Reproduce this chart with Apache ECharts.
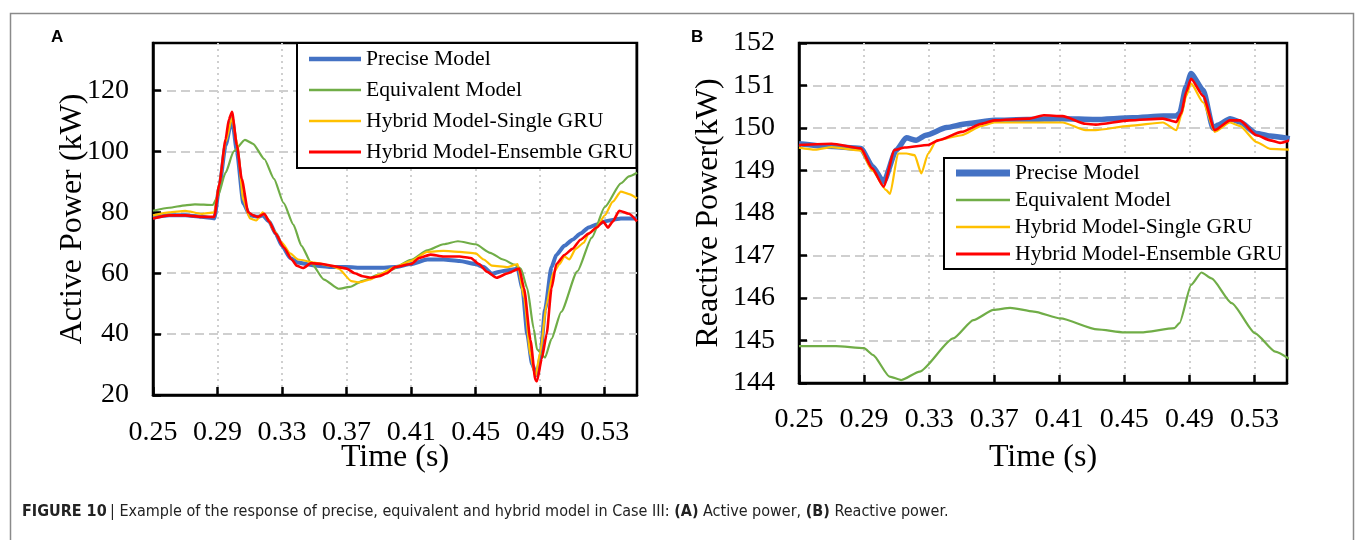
<!DOCTYPE html>
<html>
<head>
<meta charset="utf-8">
<script src="https://cdn.jsdelivr.net/npm/echarts@6/dist/echarts.min.js"></script>
<style>
  html, body { margin: 0; padding: 0; background: #fff; }
  #chart { width: 1357px; height: 540px; }
</style>
</head>
<body>
<div id="chart"></div>
<script>
// ---- panel A: active power (kW) ----
var aPreciseT = [0.25,0.26,0.27,0.28,0.288,0.291,0.295,0.299,0.302,0.306,0.31,0.315,0.318,0.322,0.326,0.33,0.335,0.34,0.345,0.35,0.36,0.37,0.38,0.39,0.40,0.41,0.42,0.43,0.44,0.45,0.455,0.46,0.465,0.47,0.476,0.479,0.482,0.485,0.488,0.49,0.493,0.497,0.50,0.505,0.51,0.515,0.52,0.525,0.53,0.535,0.54,0.545,0.55];
var aPrecise  = [78.2,79,79,78.5,78,88,102,110.8,100,83,79,78.5,79,77,73,69,65,63.5,63,62.5,62,62,61.8,61.8,62,63,64.5,64.5,64,63,62,59.8,60.5,61,61.5,55,40,30,26.5,32,48,62,66,69,71,73,75,76,77,77.5,78,78,78];

var aEquivT = [0.25,0.26,0.27,0.276,0.287,0.29,0.295,0.30,0.307,0.312,0.319,0.325,0.331,0.337,0.342,0.348,0.356,0.365,0.372,0.38,0.39,0.397,0.41,0.42,0.43,0.439,0.45,0.459,0.467,0.474,0.478,0.482,0.486,0.488,0.493,0.497,0.503,0.513,0.522,0.53,0.54,0.545,0.55];
var aEquiv  = [80.5,81.5,82.3,82.6,82.4,85,93,100,103.8,102.5,97.5,91,83,76,69,63.4,57.9,54.9,55.5,57.5,59.5,61,64.4,67.5,69.5,70.5,69.5,66.7,64.5,62.8,61.5,55,41.7,35,32.3,38.4,47.3,60.6,71.7,81.7,89.5,91.8,93];

var aSingleT = [0.25,0.26,0.27,0.28,0.288,0.291,0.295,0.299,0.302,0.306,0.31,0.314,0.318,0.321,0.325,0.33,0.335,0.34,0.35,0.36,0.365,0.373,0.378,0.385,0.39,0.40,0.41,0.42,0.43,0.44,0.45,0.455,0.46,0.47,0.476,0.48,0.484,0.487,0.49,0.494,0.498,0.502,0.505,0.508,0.512,0.517,0.52,0.525,0.53,0.535,0.54,0.545,0.55];
var aSingle  = [79,80,80.5,79.5,80,89,103,111,103,84,78,77.3,80,78,74,70,66.5,64.5,63.5,62.5,61.5,57.4,57,58,59.5,62,64,67,67.3,67,66.5,64.5,62.5,62,63,52,33,26,34,50,60,63,65.5,64.5,68,70,73,75,79,83.5,86.8,86,84.6];

var aEnsembleT = [0.25,0.26,0.27,0.28,0.288,0.291,0.295,0.297,0.299,0.302,0.305,0.309,0.312,0.315,0.319,0.322,0.326,0.331,0.336,0.339,0.343,0.348,0.355,0.36,0.365,0.37,0.375,0.38,0.385,0.39,0.395,0.40,0.41,0.415,0.422,0.43,0.44,0.447,0.452,0.457,0.463,0.47,0.477,0.48,0.484,0.487,0.488,0.491,0.494,0.497,0.50,0.505,0.51,0.515,0.52,0.525,0.529,0.532,0.535,0.539,0.545,0.55];
var aEnsemble  = [78,79,79,78.5,78.5,89,104,110.5,113,102,91,80,79,78.5,79.5,77,73,68.5,64.5,62.5,61.7,63.3,63,62.5,62,61.5,60,59,58.5,59,60,62,63,65,66.1,65.5,65.5,65,63,60.5,58.5,60,61.5,55,38,25,24.5,32,40,55,63,66,68,71,73,75,77,75,77,80.5,79.5,77];

// ---- panel B: reactive power (kW) ----
var bPreciseT = [0.25,0.2675,0.288,0.2953,0.302,0.3098,0.316,0.322,0.328,0.3407,0.353,0.37,0.39,0.412,0.432,0.455,0.474,0.482,0.484,0.488,0.491,0.4985,0.5046,0.5077,0.515,0.521,0.5313,0.5396,0.5517];
var bPrecise  = [149.63,149.57,149.52,149.09,148.73,149.48,149.77,149.71,149.83,150.01,150.1,150.18,150.2,150.22,150.2,150.24,150.28,150.28,150.35,150.97,151.28,150.89,149.99,150.07,150.22,150.14,149.87,149.81,149.75];

var bEquivT = [0.25,0.2727,0.29,0.2954,0.3057,0.3129,0.3242,0.3448,0.3572,0.3696,0.3798,0.3943,0.4107,0.4334,0.4499,0.4602,0.4808,0.4839,0.4911,0.4974,0.5036,0.516,0.5304,0.5428,0.5517];
var bEquiv  = [144.87,144.87,144.82,144.66,144.15,144.07,144.27,145.05,145.48,145.72,145.77,145.68,145.52,145.26,145.19,145.19,145.29,145.41,146.31,146.6,146.46,145.88,145.17,144.74,144.56];

var bSingleT = [0.25,0.26,0.27,0.288,0.295,0.3036,0.306,0.3109,0.316,0.3211,0.3252,0.3294,0.3345,0.35,0.3623,0.37,0.412,0.4262,0.4324,0.453,0.4737,0.482,0.485,0.488,0.491,0.4985,0.5056,0.515,0.521,0.5313,0.5396,0.5517];
var bSingle  = [149.54,149.49,149.55,149.47,149.0,148.54,148.45,149.4,149.4,149.36,148.93,149.4,149.71,149.83,150.05,150.13,150.13,149.95,149.95,150.05,150.13,149.95,150.3,150.75,151.05,150.6,149.91,150.13,150.05,149.67,149.51,149.49];

var bEnsembleT = [0.25,0.27,0.288,0.295,0.302,0.3087,0.315,0.3294,0.3356,0.35,0.3623,0.37,0.3912,0.4005,0.412,0.4262,0.4324,0.453,0.4737,0.482,0.485,0.488,0.491,0.4985,0.5056,0.515,0.521,0.5313,0.5396,0.5457,0.5517];
var bEnsemble  = [149.6,149.63,149.52,149.05,148.62,149.48,149.54,149.6,149.71,149.91,150.1,150.18,150.22,150.3,150.28,150.1,150.08,150.18,150.22,150.14,150.35,150.85,151.16,150.75,149.95,150.18,150.18,149.83,149.71,149.65,149.71];

var names = ['Precise Model', 'Equivalent Model', 'Hybrid Model-Single GRU', 'Hybrid Model-Ensemble GRU'];
var colors = ['#4472C4', '#70AD47', '#FFC000', '#FF0000'];

function pairs(t, v) {
  return t.map(function (x, i) { return [x, v[i]]; });
}

var serif = '"Liberation Serif", "Times New Roman", serif';

var chart = echarts.init(document.getElementById('chart'));

function xAxis(gridIndex, labelMargin, nameGap) {
  return {
    type: 'value', gridIndex: gridIndex,
    min: 0.25, max: 0.55, interval: 0.04,
    name: 'Time (s)', nameLocation: 'middle', nameGap: nameGap, nameMoveOverlap: false,
    nameTextStyle: { fontFamily: serif, fontSize: 32, color: '#000' },
    axisLine: { lineStyle: { color: '#000', width: 2.5 } },
    axisTick: { inside: true, length: 8, lineStyle: { color: '#000', width: 2.5 } },
    axisLabel: {
      fontFamily: serif, fontSize: 28, color: '#000', margin: labelMargin,
      showMaxLabel: false,
      formatter: function (v) { return v.toFixed(2); }
    },
    splitLine: { show: true, showMinLine: false, showMaxLine: false,
      lineStyle: { color: '#cfcfcf', width: 2, type: [2, 4] } }
  };
}

function yAxis(gridIndex, min, max, interval, name, nameGap, showMax) {
  return {
    type: 'value', gridIndex: gridIndex,
    min: min, max: max, interval: interval,
    name: name, nameLocation: 'middle', nameGap: nameGap, nameMoveOverlap: false,
    nameTextStyle: { fontFamily: serif, fontSize: 32, color: '#000' },
    axisLine: { lineStyle: { color: '#000', width: 2.5 } },
    axisTick: { inside: true, length: 8, lineStyle: { color: '#000', width: 2.5 } },
    axisLabel: { fontFamily: serif, fontSize: 28, color: '#000', margin: 24, showMaxLabel: showMax },
    splitLine: { show: true, showMinLine: false, showMaxLine: false,
      lineStyle: { color: '#cfcfcf', width: 2, type: [9, 5] } }
  };
}

function line(name, idx, data, color, width, z) {
  return {
    name: name, type: 'line', xAxisIndex: idx, yAxisIndex: idx,
    data: data, symbol: 'none', showSymbol: false,
    smooth: 0.2, smoothMonotone: 'x', z: z,
    lineStyle: { color: color, width: width },
    itemStyle: { color: color }
  };
}

// legend swatch: a thin bar whose aspect ratio gives the stroke thickness
function legendData(iconWidth, widths) {
  return names.map(function (n, i) {
    return {
      name: n,
      icon: 'path://M0,0L' + iconWidth + ',0L' + iconWidth + ',' + widths[i] + 'L0,' + widths[i] + 'Z',
      itemStyle: { color: colors[i], borderWidth: 0 }
    };
  });
}

chart.setOption({
  animation: false,
  grid: [
    { left: 153, top: 43, width: 484, height: 352, show: true, borderColor: '#000', borderWidth: 2.5, backgroundColor: 'transparent' },
    { left: 799, top: 43, width: 488, height: 340, show: true, borderColor: '#000', borderWidth: 2.5, backgroundColor: 'transparent' }
  ],
  xAxis: [xAxis(0, 24, 47), xAxis(1, 23, 59)],
  yAxis: [
    yAxis(0, 20, 135.6, 20, 'Active Power (kW)', 64, false),
    yAxis(1, 144, 152, 1, 'Reactive Power(kW)', 74, true)
  ],
  legend: [
    {
      data: legendData(52, [4.5, 2.6, 2.6, 3]), orient: 'vertical', left: 297, top: 43,
      symbolKeepAspect: true,
      backgroundColor: '#fff', borderColor: '#000', borderWidth: 2,
      padding: [5, 3, 5, 12], itemWidth: 52, itemHeight: 22, itemGap: 9,
      textStyle: { fontFamily: serif, fontSize: 21.7, color: '#000', lineHeight: 22 },
      selectedMode: false
    },
    {
      data: legendData(54, [7, 2.6, 2.6, 3]), orient: 'vertical', left: 944, top: 158,
      symbolKeepAspect: true,
      backgroundColor: '#fff', borderColor: '#000', borderWidth: 2,
      padding: [4, 4, 4, 12], itemWidth: 54, itemHeight: 20, itemGap: 5,
      textStyle: { fontFamily: serif, fontSize: 21.7, color: '#000', lineHeight: 20 },
      selectedMode: false
    }
  ],
  series: [
    line(names[0], 0, pairs(aPreciseT, aPrecise), colors[0], 4, 2),
    line(names[1], 0, pairs(aEquivT, aEquiv), colors[1], 2.2, 3),
    line(names[2], 0, pairs(aSingleT, aSingle), colors[2], 2.2, 4),
    line(names[3], 0, pairs(aEnsembleT, aEnsemble), colors[3], 2.6, 5),
    line(names[0], 1, pairs(bPreciseT, bPrecise), colors[0], 5.5, 2),
    line(names[1], 1, pairs(bEquivT, bEquiv), colors[1], 2.2, 3),
    line(names[2], 1, pairs(bSingleT, bSingle), colors[2], 2.2, 4),
    line(names[3], 1, pairs(bEnsembleT, bEnsemble), colors[3], 2.6, 5)
  ],
  graphic: [
    { type: 'rect', left: 8, top: 11, shape: { width: 1343, height: 560 },
      style: { fill: 'none', stroke: '#8a8a8a', lineWidth: 1.5 }, silent: true, z: -10 },
    { type: 'text', left: 51, top: 29, style: { text: 'A', font: 'bold 17px "Liberation Sans", Arial, sans-serif', fill: '#000' } },
    { type: 'text', left: 691, top: 29, style: { text: 'B', font: 'bold 17px "Liberation Sans", Arial, sans-serif', fill: '#000' } },
    { type: 'text', left: 22, top: 504,
      style: {
        text: '{b|FIGURE 10} {n|| Example of the response of precise, equivalent and hybrid model in Case III: }{b|(A)}{n| Active power, }{b|(B)}{n| Reactive power.}',
        rich: {
          b: { fontFamily: '"Liberation Sans Narrow", "DejaVu Sans Condensed", Arial, sans-serif', fontWeight: 'bold', fontSize: 16, fill: '#222', color: '#222' },
          n: { fontFamily: '"Liberation Sans Narrow", "DejaVu Sans Condensed", Arial, sans-serif', fontSize: 16, fill: '#222', color: '#222' }
        }
      }
    }
  ]
});
</script>
</body>
</html>
